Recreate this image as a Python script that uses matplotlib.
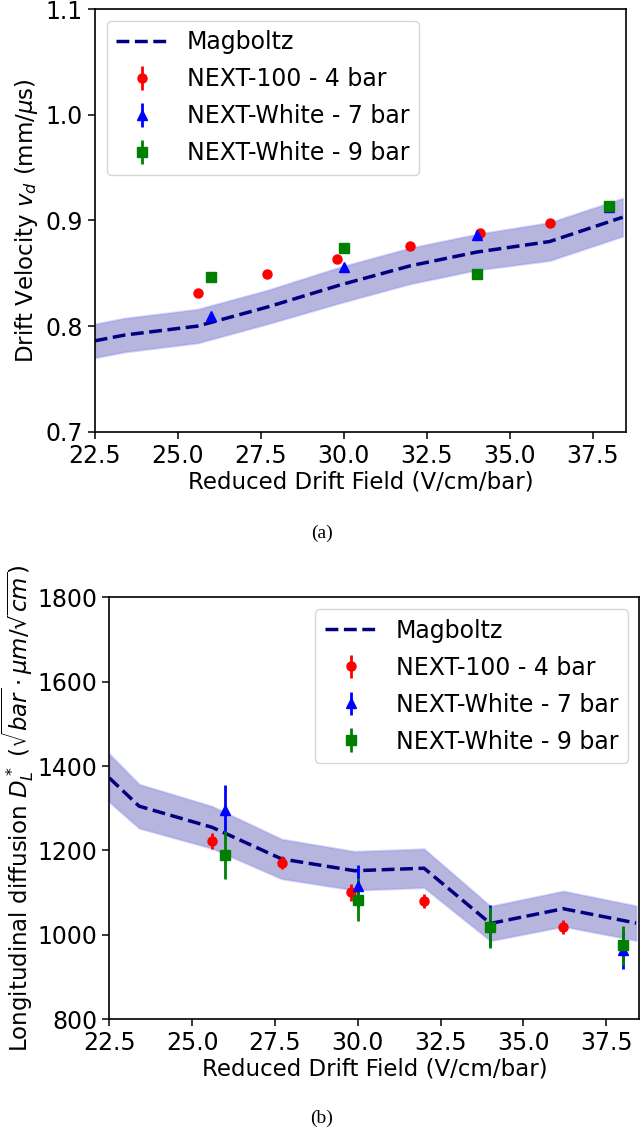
import numpy as np
import matplotlib.pyplot as plt

plt.rcParams['font.family'] = ['DejaVu Sans']
plt.rcParams['mathtext.fontset'] = 'dejavusans'

# Magboltz simulation (shared field grid)
mag_x = [22.5, 23.4, 25.6, 27.7, 29.9, 32.0, 34.0, 36.2, 38.4]
mag_vd = [0.786, 0.7915, 0.800, 0.818, 0.839, 0.857, 0.870, 0.880, 0.903]
mag_vd_err = [0.016, 0.016, 0.016, 0.016, 0.017, 0.017, 0.017, 0.018, 0.018]
mag_dl = [1372, 1305, 1255, 1180, 1152, 1158, 1027, 1062, 1028]
mag_dl_err = [57, 52, 50, 47, 46, 46, 41, 42, 41]

# NEXT-100 - 4 bar
n100_x = [25.6, 27.7, 29.8, 32.0, 34.1, 36.2]
n100_vd = [0.831, 0.849, 0.863, 0.876, 0.888, 0.898]
n100_vd_err = [0.002, 0.002, 0.002, 0.002, 0.002, 0.002]
n100_dl = [1223, 1171, 1101, 1080, 1019]
n100_dl_x = [25.6, 27.7, 29.8, 32.0, 36.2]
n100_dl_err = [19, 15, 20, 16, 16]

# NEXT-White - 7 bar
nw7_x = [26.0, 30.0, 34.0, 38.0]
nw7_vd = [0.8095, 0.856, 0.886, 0.913]
nw7_vd_err = [0.002, 0.002, 0.002, 0.002]
nw7_dl = [1296, 1116, 1021, 964]
nw7_dl_err = [60, 50, 50, 44]

# NEXT-White - 9 bar
nw9_x = [26.0, 30.0, 34.0, 38.0]
nw9_vd = [0.846, 0.874, 0.849, 0.914]
nw9_vd_err = [0.002, 0.002, 0.002, 0.002]
nw9_dl = [1190, 1083, 1018, 975]
nw9_dl_err = [57, 51, 48, 47]

xticks = [22.5, 25.0, 27.5, 30.0, 32.5, 35.0, 37.5]

fig = plt.figure(figsize=(6.43, 11.32), dpi=100)
ax1 = fig.add_axes([0.1473, 0.6186, 0.8263, 0.3734])
ax2 = fig.add_axes([0.1700, 0.0996, 0.8245, 0.3727])

band_face = (0.0, 0.0, 0.55, 0.29)
band_edge = (0.55, 0.55, 0.95, 0.35)


def draw(ax, mag_y, mag_err, pts, ylim, yticks, ylabel, loc, lpad):
    mag_y = np.array(mag_y)
    mag_err = np.array(mag_err)
    ax.fill_between(mag_x, mag_y - mag_err, mag_y + mag_err,
                    facecolor=band_face, edgecolor=band_edge, linewidth=1.5)
    ax.plot(mag_x, mag_y, '--', color='navy', lw=2.5, label='Magboltz')
    for x, y, e, fmt, c, lab in pts:
        ax.errorbar(x, y, yerr=e, fmt=fmt, color=c, ms=6.5, lw=2, label=lab)
    ax.set_xlim(22.5, 38.5)
    ax.set_ylim(*ylim)
    ax.set_xticks(xticks)
    ax.set_xticklabels(['%.1f' % t for t in xticks])
    ax.set_yticks(yticks)
    ax.tick_params(labelsize=17, length=5, width=1.1)
    for s in ax.spines.values():
        s.set_linewidth(1.2)
    ax.set_xlabel('Reduced Drift Field (V/cm/bar)', fontsize=16.5, labelpad=2)
    ax.set_ylabel(ylabel, fontsize=16.5, labelpad=lpad)
    ax.legend(loc=loc, fontsize=17, handlelength=2.2, labelspacing=0.55)


draw(ax1, mag_vd, mag_vd_err,
     [(n100_x, n100_vd, n100_vd_err, 'o', 'red', 'NEXT-100 - 4 bar'),
      (nw7_x, nw7_vd, nw7_vd_err, '^', 'blue', 'NEXT-White - 7 bar'),
      (nw9_x, nw9_vd, nw9_vd_err, 's', 'green', 'NEXT-White - 9 bar')],
     (0.7, 1.1), [0.7, 0.8, 0.9, 1.0, 1.1],
     r'Drift Velocity $v_d$ (mm/$\mu$s)', 'upper left', 4)
ax1.set_yticklabels(['0.7', '0.8', '0.9', '1.0', '1.1'])

draw(ax2, mag_dl, mag_dl_err,
     [(n100_dl_x, n100_dl, n100_dl_err, 'o', 'red', 'NEXT-100 - 4 bar'),
      (nw7_x, nw7_dl, nw7_dl_err, '^', 'blue', 'NEXT-White - 7 bar'),
      (nw9_x, nw9_dl, nw9_dl_err, 's', 'green', 'NEXT-White - 9 bar')],
     (800, 1800), [800, 1000, 1200, 1400, 1600, 1800],
     r'Longitudinal diffusion $D^*_L$ ($\sqrt{bar}\cdot\mu m/\sqrt{cm}$)',
     'upper right', 1)

fig.text(0.5, 0.529, '(a)', ha='center', va='center', fontsize=14,
         family='Liberation Serif')
fig.text(0.5, 0.0124, '(b)', ha='center', va='center', fontsize=14,
         family='Liberation Serif')

fig.savefig('out.png', dpi=100)
